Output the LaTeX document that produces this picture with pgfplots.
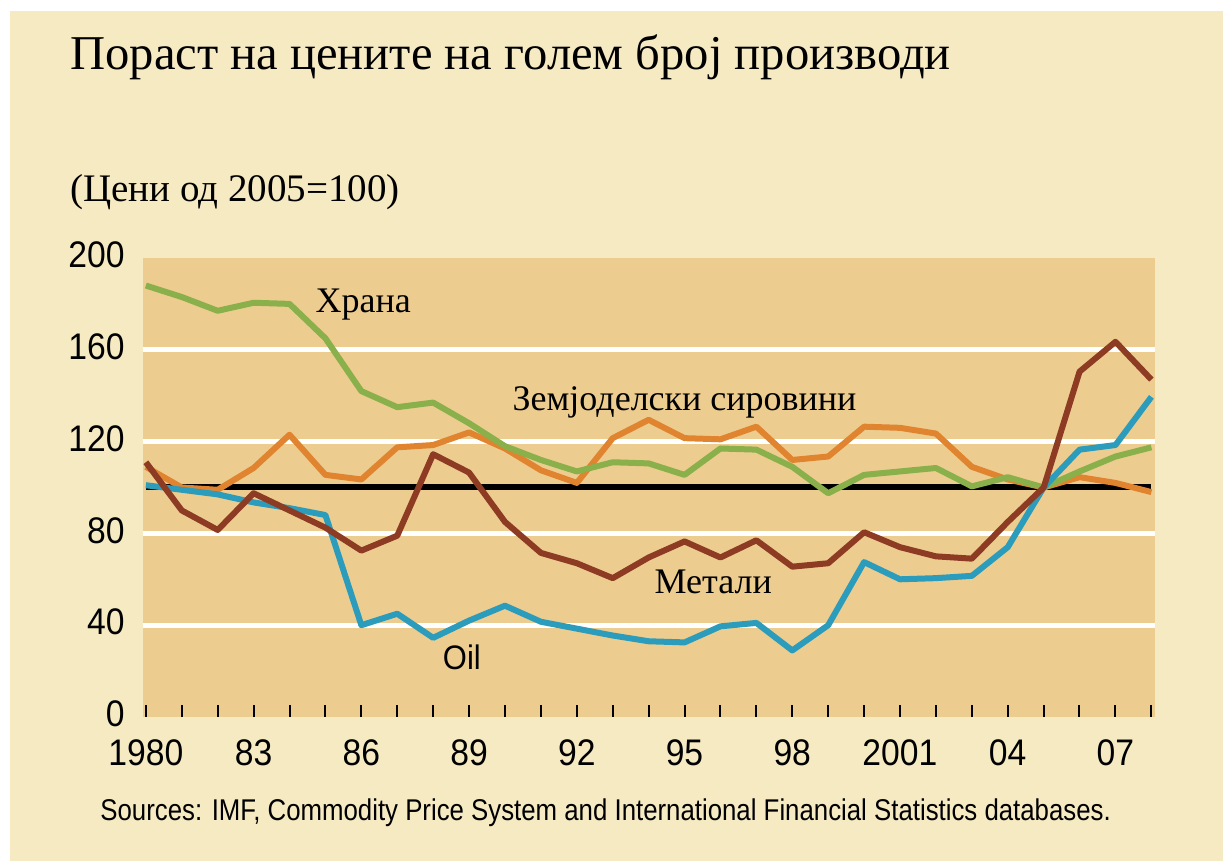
\documentclass[border=0pt]{standalone}
\usepackage{pgfplots}
\pgfplotsset{compat=1.18}
\usepackage{pgfplotstable}
\usepackage{fontspec}
\setmainfont{Liberation Serif}
\newfontfamily\ticksf[FakeStretch=0.91]{Liberation Sans}
\newfontfamily\srcsf[FakeStretch=0.86]{Liberation Sans}
\definecolor{cream}{RGB}{246,234,195}
\definecolor{tanc}{RGB}{237,205,143}
\definecolor{foodc}{RGB}{137,176,74}
\definecolor{agric}{RGB}{224,132,48}
\definecolor{metalc}{RGB}{142,59,36}
\definecolor{oilc}{RGB}{43,156,187}
\pgfplotstableread{
year food agri metals oil
1980 188 109 111 101
1981 183 100 90 99
1982 177 99 81.5 97
1983 180.5 108.5 97.5 93.5
1984 180 123 90 91
1985 165 105.5 82.5 88
1986 142 103.5 72.5 40
1987 135 117.5 79 45
1988 137 118.5 114.5 34.5
1989 128 124 106.5 42
1990 118 117 85 48.5
1991 112 107.5 71.5 41.5
1992 107 102 67 38.5
1993 111 121.5 60.5 35.5
1994 110.5 129.5 69.5 33
1995 105.5 121.5 76.5 32.5
1996 117 121 69.5 39.5
1997 116.5 126.5 77 41
1998 109 112 65.5 29
1999 97.5 113.5 67 40
2000 105.5 126.5 80.5 67.5
2001 107 126 74 60
2002 108.5 123.5 70 60.5
2003 100.5 109 69 61.5
2004 104.5 103.5 85 74
2005 100 100 100 100
2006 107 104.5 150.5 116.5
2007 113.5 102 163.5 118.5
2008 117.5 98 147 139.5
}\prices
\begin{document}
\begin{tikzpicture}
\useasboundingbox (0,0) rectangle (611.5pt,-430.5pt);
\fill[white] (0,0) rectangle (611.5pt,-430.5pt);
\fill[cream] (5pt,-5.5pt) rectangle (611.5pt,-430.5pt);
\node[anchor=base west, font=\fontsize{24.3}{27}\selectfont, inner sep=0pt] at (35pt,-35pt) {Пораст на цените на голем број производи};
\node[anchor=base west, font=\fontsize{19.5}{22}\selectfont, inner sep=0pt] at (35pt,-101pt) {(Цени од 2005=100)};
\node[anchor=base west, font=\srcsf\fontsize{15}{17}\selectfont, inner sep=0pt] at (50pt,-410pt) {Sources: IMF, Commodity Price System and International Financial Statistics databases.};
\begin{axis}[
  at={(71.5pt,-358.5pt)}, anchor=south west,
  width=506pt, height=229.5pt, scale only axis,
  xmin=1979.92, xmax=2008.1, ymin=0, ymax=200,
  axis background/.style={fill=tanc},
  axis line style={draw=none},
  xtick={1980,...,2008},
  xticklabels={1980,,,83,,,86,,,89,,,92,,,95,,,98,,,2001,,,04,,,07,},
  xtick pos=bottom, tick align=inside,
  major tick length=6pt,
  x tick style={black, line width=1pt},
  ytick={0,40,...,200},
  ytick style={draw=none},
  extra y ticks={40,80,120,160},
  extra y tick labels={},
  extra y tick style={grid=major, major grid style={white, line width=2.5pt}},
  tick label style={font=\ticksf\fontsize{18.5}{20}\selectfont, inner sep=1pt},
  /pgf/number format/assume math mode=true,
  /pgf/number format/1000 sep={},
  xticklabel style={yshift=-10pt},
  yticklabel style={xshift=-8pt, yshift=1.5pt},
  clip=false,
]
\addplot[black, line width=3pt] coordinates {(1980,100) (2008,100)};
\addplot[agric, line width=3pt, line join=round] table[x=year, y=agri] {\prices};
\addplot[foodc, line width=3pt, line join=round] table[x=year, y=food] {\prices};
\addplot[oilc, line width=3pt, line join=round] table[x=year, y=oil] {\prices};
\addplot[metalc, line width=3pt, line join=round] table[x=year, y=metals] {\prices};
\node[font=\fontsize{18}{20}\selectfont] at (axis cs:1986.05,179.8) {Храна};
\node[font=\fontsize{18}{20}\selectfont] at (axis cs:1995.0,137) {Земјоделски сировини};
\node[font=\fontsize{18}{20}\selectfont] at (axis cs:1995.8,58.8) {Метали};
\node[font=\ticksf\fontsize{17}{19}\selectfont] at (axis cs:1988.8,26) {Oil};
\end{axis}
\end{tikzpicture}
\end{document}
